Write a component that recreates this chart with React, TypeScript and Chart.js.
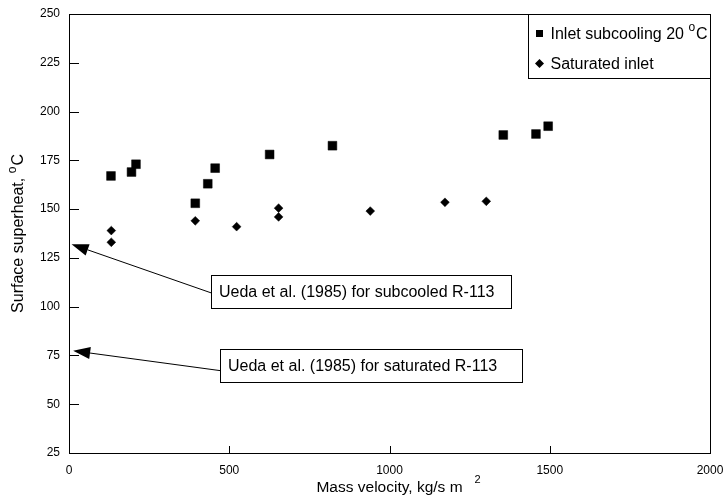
import { useEffect, useRef } from "react";
import { Chart, registerables } from "chart.js";

Chart.register(...registerables);

// Inlet subcooling 20 °C
const massSubcooled = [131, 195, 209, 394, 433, 456, 626, 822, 1355, 1457, 1495];
const superheatSubcooled = [167, 169, 173, 153, 163, 171, 178, 182.5, 188, 188.5, 192.5];

// Saturated inlet
const massSaturated = [132, 132, 394, 523, 654, 654, 940, 1173, 1302];
const superheatSaturated = [139, 133, 144, 141, 150.5, 146, 149, 153.5, 154];

const xTickValues = [0, 500, 1000, 1500, 2000];
const yTickValues = [25, 50, 75, 100, 125, 150, 175, 200, 225, 250];

const legendLabels = ["Inlet subcooling 20 ", "Saturated inlet"];

const yTitle = "Surface superheat, ";
const xTitle = "Mass velocity, kg/s m";

// Call-out boxes pointing at the Ueda et al. correlation levels on the y axis
const calloutTexts = [
  "Ueda et al. (1985) for subcooled R-113",
  "Ueda et al. (1985) for saturated R-113",
];
const calloutTipY = [132, 77.4];

const calloutLayout = [
  { boxX: [443, 1379], boxY: [116.2, 99.3], fromY: 107, tipX: 8 },
  { boxX: [471, 1413], boxY: [78.3, 61.4], fromY: 67.2, tipX: 13 },
];

const FONT = '"Liberation Sans", Arial, sans-serif';

function drawSuperDegree(ctx: CanvasRenderingContext2D, x: number, y: number, size: number) {
  // small raised "o" used as the degree sign, followed by "C"
  ctx.font = `${Math.round(size * 0.72)}px ${FONT}`;
  ctx.fillText("o", x, y - size * 0.42);
  const w = ctx.measureText("o").width;
  ctx.font = `${size}px ${FONT}`;
  ctx.fillText("C", x + w + 1, y);
}

function degreeWidth(ctx: CanvasRenderingContext2D, size: number) {
  ctx.font = `${Math.round(size * 0.72)}px ${FONT}`;
  const w = ctx.measureText("o").width;
  ctx.font = `${size}px ${FONT}`;
  return w + 1 + ctx.measureText("C").width;
}

const decorations = {
  id: "decorations",
  afterDraw(chart: any) {
    const { ctx, chartArea } = chart;
    const xs = chart.scales.x;
    const ys = chart.scales.y;
    const { left, right, top, bottom } = chartArea;
    ctx.save();
    ctx.strokeStyle = "#000";
    ctx.fillStyle = "#000";
    ctx.lineWidth = 1;

    // frame
    ctx.strokeRect(Math.round(left) + 0.5, Math.round(top) + 0.5, Math.round(right - left), Math.round(bottom - top));

    // inward tick marks
    ctx.beginPath();
    for (const v of yTickValues) {
      const py = Math.round(ys.getPixelForValue(v)) + 0.5;
      ctx.moveTo(left, py);
      ctx.lineTo(left + 10, py);
    }
    for (const v of xTickValues) {
      const px = Math.round(xs.getPixelForValue(v)) + 0.5;
      ctx.moveTo(px, bottom);
      ctx.lineTo(px, bottom - 7);
    }
    ctx.stroke();

    // call-outs
    calloutTexts.forEach((text, i) => {
      const lay = calloutLayout[i];
      const bx0 = Math.round(xs.getPixelForValue(lay.boxX[0])) + 0.5;
      const bx1 = Math.round(xs.getPixelForValue(lay.boxX[1])) + 0.5;
      const by0 = Math.round(ys.getPixelForValue(lay.boxY[0])) + 0.5;
      const by1 = Math.round(ys.getPixelForValue(lay.boxY[1])) + 0.5;
      const sx = bx0;
      const sy = ys.getPixelForValue(lay.fromY);
      const tx = xs.getPixelForValue(lay.tipX);
      const ty = ys.getPixelForValue(calloutTipY[i]);
      const ang = Math.atan2(ty - sy, tx - sx);
      const headLen = 17;
      const headHalf = 6;
      const baseX = tx - Math.cos(ang) * headLen;
      const baseY = ty - Math.sin(ang) * headLen;
      ctx.beginPath();
      ctx.moveTo(sx, sy);
      ctx.lineTo(baseX, baseY);
      ctx.stroke();
      ctx.beginPath();
      ctx.moveTo(tx, ty);
      ctx.lineTo(baseX - Math.sin(ang) * headHalf, baseY + Math.cos(ang) * headHalf);
      ctx.lineTo(baseX + Math.sin(ang) * headHalf, baseY - Math.cos(ang) * headHalf);
      ctx.closePath();
      ctx.fill();

      ctx.fillStyle = "#fff";
      ctx.fillRect(bx0, by0, bx1 - bx0, by1 - by0);
      ctx.strokeRect(bx0, by0, bx1 - bx0, by1 - by0);
      ctx.fillStyle = "#000";
      ctx.font = `16px ${FONT}`;
      ctx.textBaseline = "middle";
      ctx.textAlign = "left";
      ctx.fillText(text, bx0 + 7.5, (by0 + by1) / 2 + 1);
    });

    // legend
    const lw = 182;
    const lh = 64;
    const lx = Math.round(right) - lw + 0.5;
    const ly = Math.round(top) + 0.5;
    ctx.fillStyle = "#fff";
    ctx.fillRect(lx, ly, lw, lh);
    ctx.strokeRect(lx, ly, lw, lh);
    ctx.fillStyle = "#000";
    const mx = lx + 11;
    const row1 = ly + 19;
    const row2 = ly + 49;
    ctx.fillRect(mx - 3.5, row1 - 3.5, 7, 7);
    ctx.beginPath();
    ctx.moveTo(mx, row2 - 4.5);
    ctx.lineTo(mx + 4.5, row2);
    ctx.lineTo(mx, row2 + 4.5);
    ctx.lineTo(mx - 4.5, row2);
    ctx.closePath();
    ctx.fill();
    ctx.font = `16px ${FONT}`;
    ctx.textBaseline = "middle";
    ctx.textAlign = "left";
    const tx0 = lx + 22;
    ctx.fillText(legendLabels[0], tx0, row1 + 1);
    const w0 = ctx.measureText(legendLabels[0]).width;
    drawSuperDegree(ctx, tx0 + w0, row1 + 1, 16);
    ctx.font = `16px ${FONT}`;
    ctx.fillText(legendLabels[1], tx0, row2 + 1);

    // x axis title with raised exponent
    ctx.font = `15.5px ${FONT}`;
    ctx.textAlign = "center";
    ctx.textBaseline = "middle";
    const cx = (left + right) / 2;
    ctx.fillText(xTitle, cx, 488);
    const xw = ctx.measureText(xTitle).width;
    ctx.font = `11px ${FONT}`;
    ctx.textAlign = "left";
    ctx.fillText("2", cx + xw / 2 + 12, 480);

    // y axis title, rotated
    ctx.save();
    ctx.translate(19, (top + bottom) / 2);
    ctx.rotate(-Math.PI / 2);
    ctx.font = `16px ${FONT}`;
    const yw = ctx.measureText(yTitle).width;
    const total = yw + degreeWidth(ctx, 16);
    ctx.font = `16px ${FONT}`;
    ctx.textAlign = "left";
    ctx.textBaseline = "middle";
    ctx.fillText(yTitle, -total / 2, 0);
    drawSuperDegree(ctx, -total / 2 + yw, 0, 16);
    ctx.restore();

    ctx.restore();
  },
};

export default function App() {
  const canvasRef = useRef<HTMLCanvasElement | null>(null);

  useEffect(() => {
    const canvas = canvasRef.current;
    if (!canvas) return;
    const chart = new Chart(canvas, {
      type: "scatter",
      data: {
        datasets: [
          {
            label: legendLabels[0],
            data: massSubcooled.map((x, i) => ({ x, y: superheatSubcooled[i] })),
            pointStyle: "rect",
            pointRadius: 6.2,
            backgroundColor: "#000",
            borderColor: "#000",
            borderWidth: 0.5,
          },
          {
            label: legendLabels[1],
            data: massSaturated.map((x, i) => ({ x, y: superheatSaturated[i] })),
            pointStyle: "rectRot",
            pointRadius: 4.4,
            backgroundColor: "#000",
            borderColor: "#000",
            borderWidth: 0.5,
          },
        ],
      },
      options: {
        responsive: false,
        animation: false,
        devicePixelRatio: 1,
        layout: { padding: { top: 14, right: 13, left: 0, bottom: 0 } },
        plugins: {
          legend: { display: false },
          tooltip: { enabled: false },
          title: { display: false },
        },
        scales: {
          x: {
            type: "linear",
            min: 0,
            max: 2000,
            afterBuildTicks: (s: any) => {
              s.ticks = xTickValues.map((value) => ({ value }));
            },
            ticks: {
              color: "#000",
              font: { family: FONT, size: 12 },
              padding: 10,
              maxRotation: 0,
              callback: (v: any) => String(v),
            },
            grid: { display: false, drawTicks: false },
            border: { display: false },
            afterFit: (s: any) => {
              s.height = 45;
              s.paddingLeft = 0;
              s.paddingRight = 0;
            },
          },
          y: {
            type: "linear",
            min: 25,
            max: 250,
            afterBuildTicks: (s: any) => {
              s.ticks = yTickValues.map((value) => ({ value }));
            },
            ticks: {
              color: "#000",
              font: { family: FONT, size: 12 },
              padding: 9,
              callback: (v: any) => String(v),
            },
            grid: { display: false, drawTicks: false },
            border: { display: false },
            afterFit: (s: any) => {
              s.width = 69;
              s.paddingTop = 0;
              s.paddingBottom = 0;
            },
          },
        },
      },
      plugins: [decorations],
    });
    return () => chart.destroy();
  }, []);

  return (
    <div style={{ position: "absolute", left: 0, top: 0, width: 723, height: 498, background: "#fff" }}>
      <canvas ref={canvasRef} width={723} height={498} style={{ display: "block", width: 723, height: 498 }} />
    </div>
  );
}
